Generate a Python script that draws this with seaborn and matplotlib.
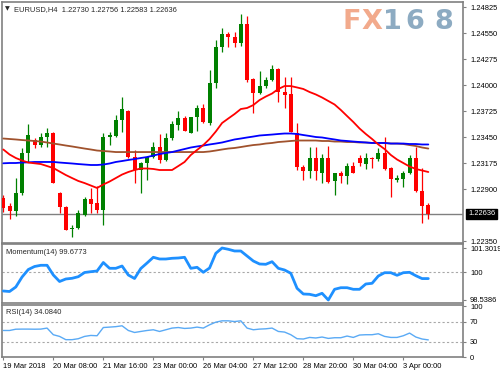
import numpy as np
import pandas as pd
import matplotlib
matplotlib.use("Agg")
import matplotlib.pyplot as plt
import seaborn as sns
from matplotlib.transforms import blended_transform_factory

# ---------------- data ----------------
open_ = [1.22805, 1.22720, 1.22667, 1.22858, 1.23281, 1.23418, 1.23365, 1.23450, 1.23492, 1.22858,
         1.22710, 1.22477, 1.22488, 1.22625, 1.22794, 1.22752, 1.22678, 1.23450, 1.23461, 1.23630,
         1.23725, 1.23238, 1.23101, 1.23175, 1.23238, 1.23344, 1.23207, 1.23439, 1.23577, 1.23651,
         1.23492, 1.23662, 1.23757, 1.23598, 1.24021, 1.24402, 1.24539, 1.24508, 1.24444, 1.24645,
         1.24063, 1.23915, 1.23989, 1.24053, 1.24169, 1.23926, 1.23905, 1.23492, 1.23133, 1.23090,
         1.23228, 1.23069, 1.23228, 1.22985, 1.23069, 1.23038, 1.23143, 1.23228, 1.23164, 1.23228,
         1.23217, 1.23281, 1.23122, 1.22995, 1.23006, 1.23069, 1.23228, 1.22879, 1.22730]
high = [1.22837, 1.22752, 1.23016, 1.23334, 1.23588, 1.23439, 1.23492, 1.23545, 1.23503, 1.22868,
        1.22720, 1.22519, 1.22678, 1.22815, 1.22911, 1.22932, 1.23492, 1.23503, 1.23683, 1.23873,
        1.23736, 1.23313, 1.23186, 1.23249, 1.23397, 1.23482, 1.23492, 1.23619, 1.23725, 1.23672,
        1.23662, 1.23788, 1.23799, 1.24159, 1.24476, 1.24603, 1.24561, 1.24561, 1.24751, 1.24730,
        1.24074, 1.24148, 1.24085, 1.24212, 1.24180, 1.24085, 1.24085, 1.23598, 1.23154, 1.23344,
        1.23344, 1.23270, 1.23355, 1.23069, 1.23090, 1.23175, 1.23186, 1.23260, 1.23281, 1.23238,
        1.23334, 1.23450, 1.23133, 1.23048, 1.23090, 1.23260, 1.23344, 1.23122, 1.22756]
low = [1.22657, 1.22583, 1.22614, 1.22837, 1.23186, 1.23334, 1.23344, 1.23344, 1.22963, 1.22646,
       1.22466, 1.22392, 1.22477, 1.22614, 1.22646, 1.22646, 1.22519, 1.23365, 1.23450, 1.23503,
       1.23228, 1.22963, 1.22858, 1.22995, 1.23228, 1.23175, 1.23196, 1.23418, 1.23524, 1.23513,
       1.23492, 1.23513, 1.23598, 1.23577, 1.23968, 1.24349, 1.24402, 1.24402, 1.24413, 1.24032,
       1.23704, 1.23905, 1.23968, 1.24043, 1.23820, 1.23757, 1.23503, 1.23101, 1.22995, 1.23016,
       1.22995, 1.22963, 1.22963, 1.22837, 1.22963, 1.22953, 1.23069, 1.23143, 1.23112, 1.23122,
       1.23196, 1.23101, 1.22815, 1.22974, 1.22921, 1.23059, 1.22868, 1.22540, 1.22583]
close = [1.22699, 1.22667, 1.22858, 1.23281, 1.23471, 1.23365, 1.23450, 1.23492, 1.22963, 1.22710,
         1.22466, 1.22488, 1.22646, 1.22794, 1.22741, 1.22678, 1.23450, 1.23471, 1.23630, 1.23746,
         1.23238, 1.23101, 1.23175, 1.23238, 1.23344, 1.23207, 1.23439, 1.23588, 1.23651, 1.23513,
         1.23662, 1.23757, 1.23609, 1.24021, 1.24402, 1.24539, 1.24508, 1.24444, 1.24645, 1.24053,
         1.23915, 1.23989, 1.24053, 1.24169, 1.23926, 1.23894, 1.23503, 1.23133, 1.23090, 1.23228,
         1.23090, 1.23228, 1.22974, 1.23069, 1.23038, 1.23143, 1.23069, 1.23175, 1.23228, 1.23217,
         1.23281, 1.23112, 1.23006, 1.23016, 1.23069, 1.23228, 1.22879, 1.22720, 1.22636]

ma_red = [1.23318, 1.23265, 1.23228, 1.23201, 1.23180, 1.23172, 1.23164, 1.23143, 1.23122, 1.23085,
          1.23048, 1.23016, 1.22985, 1.22963, 1.22937, 1.22911, 1.22948, 1.22979, 1.23016, 1.23053,
          1.23080, 1.23101, 1.23117, 1.23117, 1.23112, 1.23101, 1.23101, 1.23101, 1.23143, 1.23186,
          1.23260, 1.23313, 1.23365, 1.23429, 1.23508, 1.23598, 1.23646, 1.23693, 1.23746, 1.23757,
          1.23788, 1.23841, 1.23878, 1.23910, 1.23958, 1.23989, 1.23989, 1.23974, 1.23958, 1.23926,
          1.23900, 1.23868, 1.23831, 1.23794, 1.23736, 1.23672, 1.23609, 1.23540, 1.23482, 1.23429,
          1.23371, 1.23323, 1.23260, 1.23212, 1.23175, 1.23138, 1.23112, 1.23096, 1.23080]
ma_blue = [1.23172, 1.23175, 1.23175, 1.23180, 1.23182, 1.23186, 1.23186, 1.23186, 1.23186, 1.23180,
           1.23175, 1.23170, 1.23164, 1.23159, 1.23154, 1.23154, 1.23159, 1.23170, 1.23186, 1.23196,
           1.23207, 1.23217, 1.23228, 1.23238, 1.23254, 1.23270, 1.23281, 1.23291, 1.23307, 1.23323,
           1.23339, 1.23350, 1.23360, 1.23371, 1.23381, 1.23392, 1.23408, 1.23424, 1.23434, 1.23445,
           1.23455, 1.23466, 1.23471, 1.23476, 1.23482, 1.23487, 1.23487, 1.23482, 1.23471, 1.23461,
           1.23450, 1.23445, 1.23434, 1.23424, 1.23413, 1.23408, 1.23402, 1.23397, 1.23392, 1.23387,
           1.23387, 1.23387, 1.23381, 1.23381, 1.23381, 1.23376, 1.23376, 1.23371, 1.23371]
ma_brown = [1.23434, 1.23429, 1.23424, 1.23418, 1.23413, 1.23408, 1.23402, 1.23392, 1.23381, 1.23371,
            1.23360, 1.23350, 1.23339, 1.23328, 1.23318, 1.23307, 1.23302, 1.23297, 1.23291, 1.23291,
            1.23291, 1.23291, 1.23291, 1.23291, 1.23291, 1.23291, 1.23291, 1.23291, 1.23291, 1.23291,
            1.23291, 1.23291, 1.23291, 1.23297, 1.23307, 1.23318, 1.23328, 1.23334, 1.23344, 1.23355,
            1.23365, 1.23371, 1.23381, 1.23387, 1.23397, 1.23402, 1.23408, 1.23413, 1.23413, 1.23413,
            1.23413, 1.23408, 1.23408, 1.23402, 1.23402, 1.23397, 1.23397, 1.23392, 1.23392, 1.23387,
            1.23387, 1.23387, 1.23381, 1.23381, 1.23376, 1.23365, 1.23355, 1.23339, 1.23328]

momentum = [99.017, 98.990, 99.230, 99.761, 100.159, 100.319, 100.383, 100.383, 99.867, 99.522,
            99.655, 99.692, 99.777, 100.000, 100.043, 100.080, 100.531, 100.223, 100.223, 100.345,
            99.867, 99.681, 100.213, 100.505, 100.808, 100.717, 100.717, 100.755, 100.771, 100.808,
            100.223, 100.276, 100.011, 100.239, 101.020, 101.3019, 101.233, 101.143, 101.143, 100.877,
            100.611, 100.452, 100.436, 100.574, 100.223, 100.133, 99.958, 99.160, 98.858, 98.842,
            98.767, 98.895, 98.5386, 99.107, 99.192, 99.192, 99.107, 99.107, 99.389, 99.426,
            99.814, 99.989, 99.989, 99.851, 99.989, 100.010, 99.830, 99.677, 99.6773]
rsi = [52.5, 52.5, 55.0, 55.2, 55.2, 55.0, 55.2, 57.2, 44.2, 40.9,
       34.5, 34.5, 36.4, 40.9, 42.8, 42.2, 58.3, 59.1, 60.0, 61.7,
       52.5, 48.6, 50.6, 52.5, 53.9, 50.6, 53.9, 57.2, 58.3, 56.5,
       57.2, 59.1, 57.2, 63.6, 68.8, 71.4, 71.4, 70.0, 71.4, 57.2,
       53.9, 55.2, 55.8, 57.2, 50.6, 49.4, 44.2, 36.4, 35.8, 38.9,
       37.8, 39.7, 37.0, 38.3, 38.3, 41.6, 38.9, 43.6, 44.2, 44.2,
       46.1, 40.9, 38.9, 38.9, 42.2, 47.4, 39.7, 35.8, 34.084]

x_tick_bars = [0, 8, 16, 24, 32, 40, 48, 56, 64]
x_tick_labels = ["19 Mar 2018", "20 Mar 08:00", "21 Mar 16:00", "23 Mar 00:00",
                 "26 Mar 04:00", "27 Mar 12:00", "28 Mar 20:00", "30 Mar 04:00", "3 Apr 00:00"]
price_ticks = [1.24825, 1.24550, 1.24275, 1.24000, 1.23725, 1.23450, 1.23175, 1.22900, 1.22350]
mom_ticks = [101.3019, 100.0, 98.5386]
mom_tick_labels = ["101.3019", "100", "98.5386"]
rsi_ticks = [100, 70, 30, 0]
header_text = "EURUSD,H4  1.22730 1.22756 1.22583 1.22636"
mom_text = "Momentum(14) 99.6773"
rsi_text = "RSI(14) 34.0840"
last_price = 1.22636
logo_left = ["F", "X"]
logo_right = ["1", "6", "8"]

# ---------------- styling ----------------
sns.set_style("white")
plt.rcParams['font.family'] = ['Liberation Sans', 'DejaVu Sans']
FS = 5.4
GRAY = '#808080'
GREEN = '#008000'
RED = '#ff0000'

W, H = 500, 375
fig = plt.figure(figsize=(W / 100, H / 100), dpi=100)
fig.patch.set_facecolor('white')


def rect(x0, y0, x1, y1):
    return [x0 / W, 1 - y1 / H, (x1 - x0) / W, (y1 - y0) / H]


ax = fig.add_axes(rect(2, 2, 463, 243))
axm = fig.add_axes(rect(2, 244, 463, 302.5), sharex=ax)
axr = fig.add_axes(rect(2, 305.3, 463, 357.3), sharex=ax)

df = pd.DataFrame(dict(bar=np.arange(len(close)), o=open_, h=high, l=low, c=close,
                       red=ma_red, blue=ma_blue, brown=ma_brown, mom=momentum, rsi=rsi))

# ---------------- main price panel ----------------
ax.axhline(last_price, color=GRAY, lw=1.0, zorder=1)
up = (df.c >= df.o).values
cols = np.where(up, GREEN, RED)
ax.vlines(df.bar, df.l, df.h, colors=cols, linewidth=0.9, zorder=2)
body = np.maximum((df.c - df.o).abs().values, 0.00009)
ax.bar(df.bar, body, bottom=np.minimum(df.o, df.c), width=0.62, color=cols,
       linewidth=0, zorder=3)

sns.lineplot(data=df, x='bar', y='brown', ax=ax, color='#a0522d', lw=1.3, zorder=4)
sns.lineplot(data=df, x='bar', y='blue', ax=ax, color='#0000ff', lw=1.3, zorder=5)
sns.lineplot(data=df, x='bar', y='red', ax=ax, color=RED, lw=1.3, zorder=6)

ax.set_ylim(1.22329, 1.24878)
ax.set_xlim(-0.21, 73.55)
ax.set_yticks(price_ticks)
ax.set_yticklabels([f"{v:.5f}" for v in price_ticks])

# current price box
tr = blended_transform_factory(ax.transAxes, ax.transData)
ax.text(1.0 + 5 / 461, last_price, f"{last_price:.5f}", transform=tr, ha='left', va='center',
        color='white', fontsize=FS, clip_on=False, zorder=10,
        bbox=dict(boxstyle='square,pad=0.22', fc='black', ec='black'))

# header
fig.text(7.5 / W, 1 - 10.5 / H, "\u25bc", ha='center', va='baseline', fontsize=4.5,
         family=['DejaVu Sans'])
fig.text(14 / W, 1 - 11 / H, header_text, ha='left', va='baseline', fontsize=FS)

# watermark logo
logo_x = [351.5, 372, 392.5, 414.5, 443.5]
for ch, xx in zip(logo_left + logo_right, logo_x):
    colr = '#f2aa8c' if ch in logo_left else '#8dabc2'
    fig.text(xx / W, 1 - 29 / H, ch, ha='center', va='baseline', fontsize=19.5,
             fontweight='bold', color=colr, family=['DejaVu Sans'])

# ---------------- momentum panel ----------------
axm.axhline(100, color='#a8a8a8', lw=0.8, ls=(0, (2, 2)), zorder=1)
sns.lineplot(data=df, x='bar', y='mom', ax=axm, color='#1e90ff', lw=2.0, zorder=3)
axm.set_ylim(98.4057, 101.5145)
axm.set_yticks(mom_ticks)
axm.set_yticklabels(mom_tick_labels)
fig.text(6 / W, 1 - 254 / H, mom_text, ha='left', va='baseline', fontsize=FS)

# ---------------- RSI panel ----------------
for lv in (70, 30):
    axr.axhline(lv, color='#a8a8a8', lw=0.8, ls=(0, (2, 2)), zorder=1)
sns.lineplot(data=df, x='bar', y='rsi', ax=axr, color='#5aaaf5', lw=1.0, zorder=3)
axr.set_ylim(0, 101.8)
axr.set_yticks(rsi_ticks)
labs = axr.set_yticklabels([str(v) for v in rsi_ticks])
labs[0].set_va('top')
labs[-1].set_va('bottom')
fig.text(6 / W, 1 - 314 / H, rsi_text, ha='left', va='baseline', fontsize=FS)

axr.set_xticks(x_tick_bars)
axr.set_xticklabels(x_tick_labels, ha='left')
axr.set_xlim(-0.21, 73.55)

# ---------------- common axis styling ----------------
for a in (ax, axm, axr):
    a.set_xlabel('')
    a.set_ylabel('')
    a.set_facecolor('white')
    a.grid(False)
    a.yaxis.tick_right()
    a.tick_params(axis='y', which='both', right=True, left=False, direction='out',
                  length=2.5, width=0.8, color=GRAY, labelsize=FS, pad=2.5,
                  labelcolor='black')
    for s in a.spines.values():
        s.set_visible(True)
        s.set_color(GRAY)
        s.set_linewidth(1.2)
for a in (ax, axm):
    a.tick_params(axis='x', bottom=False, labelbottom=False)
axr.tick_params(axis='x', bottom=True, direction='out', length=2.5, width=0.8,
                color=GRAY, labelsize=FS, pad=1.5, labelcolor='black')

fig.savefig('out.png', dpi=100, facecolor='white')
